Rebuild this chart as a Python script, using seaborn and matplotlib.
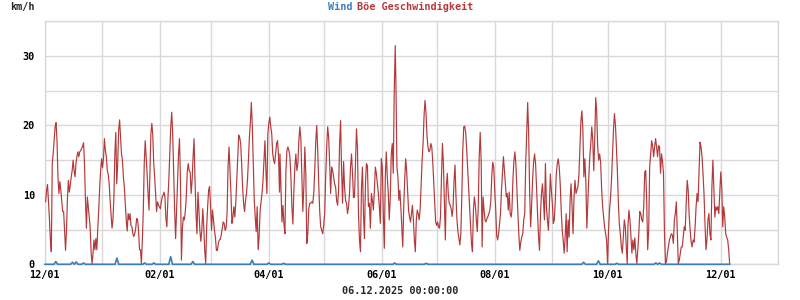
import numpy as np
import pandas as pd
import matplotlib
matplotlib.use("Agg")
import matplotlib.pyplot as plt
import matplotlib.dates as mdates
from matplotlib.ticker import MultipleLocator
import seaborn as sns

# ---------------- data (km/h) ----------------
start_date = pd.Timestamp("2024-12-01")
x_end_date = pd.Timestamp("2026-01-01")

# gust series, in six consecutive time blocks (day offsets from start_date)
block_days = [(0.5, 64.0), (64.4, 126.8), (127.05, 189.3),
              (189.7, 251.9), (252.3, 314.6), (314.96, 369.9)]

gust_dec_jan = [9.0, 10.7, 11.5, 9.0, 6.6, 3.5, 1.8, 14.5, 16.0, 18.0, 19.8, 20.4, 17.8, 12.6, 10.2, 11.9,
                10.7, 9.2, 7.6, 7.6, 4.9, 2.0, 4.9, 9.5, 12.1, 10.4, 11.4, 12.6, 13.5, 15.0, 13.5, 12.6,
                14.5, 15.5, 16.2, 15.5, 16.2, 16.4, 16.7, 17.0, 17.5, 14.5, 9.2, 5.2, 9.7, 8.3, 6.8, 5.2,
                1.6, 0.1, 1.6, 3.5, 2.1, 3.7, 2.1, 5.2, 7.8, 11.1, 13.5, 15.2, 13.9, 15.2, 18.1, 16.4,
                15.5, 13.5, 13.0, 11.6, 9.2, 7.3, 5.2, 6.4, 9.7, 15.9, 19.0, 11.6, 14.5, 19.3, 20.8, 18.3,
                15.9, 15.0, 12.6, 11.1, 8.8, 6.4, 4.8, 7.3, 6.4, 7.3, 5.6, 5.4, 4.4, 4.0, 4.4, 5.2,
                6.6, 6.4, 4.9, 2.1, 2.1, 0.1, 3.5, 7.8, 14.5, 17.8, 15.5, 13.1, 10.2, 7.8, 13.5, 18.8,
                20.3, 18.6, 14.5, 12.6, 10.2, 7.6, 9.0, 8.5, 8.3, 8.0, 9.0, 9.7, 10.0]

gust_feb_mar = [10.4, 9.7, 6.6, 5.4, 9.2, 12.1, 15.9, 19.8, 21.9, 18.8, 13.1, 7.8, 3.7, 7.8, 11.6, 15.9,
                18.1, 12.1, 0.6, 5.2, 6.8, 6.4, 7.6, 9.7, 13.3, 14.5, 13.5, 13.3, 10.2, 12.1, 15.5, 18.1,
                12.1, 7.3, 4.4, 10.4, 7.8, 4.9, 3.3, 4.9, 8.0, 5.4, 2.0, 0.1, 5.4, 8.3, 10.7, 11.2,
                8.3, 4.9, 7.8, 6.4, 4.9, 3.9, 2.0, 2.0, 3.0, 3.5, 3.6, 4.2, 5.2, 6.1, 5.9, 4.9,
                5.2, 7.3, 14.0, 16.9, 13.5, 10.2, 5.9, 6.8, 8.3, 6.8, 9.0, 12.1, 15.5, 18.6, 18.3, 17.4,
                14.5, 11.1, 8.8, 7.6, 9.2, 10.2, 12.1, 15.0, 18.3, 20.5, 23.3, 19.8, 14.5, 9.2, 6.8, 4.7,
                8.3, 2.1, 3.9, 7.6, 9.0, 10.2, 12.1, 15.0, 17.8, 13.5, 10.2, 18.8, 20.3, 21.2, 19.8, 18.8,
                15.9, 15.0, 14.5, 15.9, 17.4, 17.8, 15.5, 10.4]

gust_apr_may = [15.9, 11.1, 6.1, 8.5, 5.8, 4.4, 13.5, 16.4, 16.9, 16.4, 15.5, 12.6, 8.3, 5.8, 10.7, 14.0,
                15.9, 13.5, 14.5, 17.8, 19.8, 18.1, 13.1, 7.6, 11.1, 16.9, 13.1, 3.0, 4.4, 8.0, 8.8, 8.8,
                9.0, 8.8, 10.2, 13.5, 17.6, 20.0, 16.4, 11.6, 7.6, 5.4, 4.9, 4.4, 5.6, 7.3, 12.6, 16.9,
                19.8, 18.3, 14.5, 10.2, 14.0, 13.5, 12.6, 11.6, 11.1, 9.2, 8.5, 10.7, 17.4, 20.7, 13.5, 8.8,
                14.8, 11.1, 9.2, 8.8, 7.3, 8.3, 10.2, 14.0, 15.9, 13.1, 9.6, 9.7, 14.5, 19.5, 16.7, 7.3,
                3.5, 1.8, 10.9, 14.0, 7.3, 3.7, 11.6, 14.5, 14.2, 8.3, 8.8, 5.2, 10.2, 9.2, 7.8, 10.7,
                14.0, 13.1, 11.6, 10.2, 8.3, 5.9, 15.2, 14.0, 7.3, 2.3, 12.6, 16.2, 12.6, 10.2, 6.4, 9.7,
                15.9, 17.4, 13.1, 25.0, 31.5]

gust_jun_jul = [25.5, 14.0, 12.6, 9.2, 10.7, 8.3, 5.4, 2.5, 8.3, 12.1, 15.2, 13.5, 10.7, 7.8, 6.8, 6.1,
                7.3, 8.5, 6.4, 3.5, 1.8, 6.4, 7.8, 7.3, 6.4, 8.0, 11.6, 15.0, 17.4, 21.4, 23.6, 21.9,
                18.6, 16.9, 16.2, 16.4, 17.4, 16.9, 14.7, 11.9, 9.0, 6.1, 5.6, 6.1, 5.4, 5.2, 6.9, 12.6,
                17.4, 14.5, 9.2, 3.5, 11.2, 13.1, 10.2, 8.8, 8.5, 8.0, 6.9, 8.3, 12.1, 14.3, 9.7, 6.4,
                4.7, 3.7, 2.8, 4.4, 9.7, 16.4, 19.8, 19.9, 19.0, 16.7, 14.0, 11.1, 8.8, 6.1, 3.0, 1.8,
                7.8, 9.7, 8.5, 6.4, 4.7, 8.3, 15.5, 19.0, 15.0, 2.5, 9.7, 7.8, 6.4, 6.1, 6.6, 6.9,
                7.3, 7.8, 9.2, 12.8, 14.7, 14.0, 10.7, 8.0, 4.2, 3.5, 4.4, 5.8, 7.3, 10.7, 13.1, 15.5,
                13.5, 11.6, 9.7, 10.2, 7.8, 10.4, 7.3, 6.8]

gust_aug_sep = [7.8, 12.1, 14.8, 16.2, 14.5, 10.9, 7.6, 4.4, 2.0, 3.2, 3.9, 4.4, 6.4, 7.3, 14.5, 19.0,
                23.3, 18.8, 10.4, 5.4, 8.5, 12.3, 14.7, 15.9, 14.5, 11.1, 7.3, 4.0, 2.0, 7.3, 10.2, 11.6,
                9.2, 6.4, 14.5, 8.3, 6.4, 4.9, 8.3, 13.0, 10.7, 8.8, 5.9, 6.4, 9.2, 13.0, 14.5, 15.2,
                14.0, 11.6, 7.8, 4.9, 3.5, 1.6, 3.9, 7.3, 1.8, 6.4, 3.9, 9.2, 11.6, 8.3, 4.4, 9.7,
                12.1, 10.2, 10.7, 11.2, 13.0, 16.7, 20.7, 22.1, 19.3, 12.6, 15.2, 11.8, 5.2, 8.8, 12.6, 15.5,
                17.4, 19.8, 17.9, 13.5, 17.9, 24.0, 21.9, 16.9, 15.0, 15.9, 14.7, 10.9, 8.3, 6.8, 5.4, 4.4,
                3.5, 0.1, 4.9, 7.8, 9.5, 12.1, 15.9, 19.3, 21.7, 20.0, 16.9, 13.3, 8.8, 5.7, 4.3, 2.5,
                1.6, 3.9, 6.4, 5.4, 2.5, 0.1]

gust_oct_dec = [5.4, 7.8, 6.4, 4.2, 1.6, 3.5, 2.1, 3.8, 1.6, 0.1, 2.1, 4.4, 7.6, 7.3, 6.4, 6.1,
                8.3, 13.3, 13.5, 9.0, 2.1, 4.9, 14.0, 15.9, 17.8, 17.1, 15.5, 16.9, 18.1, 16.9, 15.5, 17.1,
                16.9, 13.1, 15.9, 14.8, 13.1, 4.4, 0.1, 0.4, 1.6, 2.5, 3.5, 4.0, 4.4, 4.2, 3.0, 6.4,
                7.3, 9.0, 4.4, 0.1, 0.6, 1.6, 2.5, 2.5, 3.9, 5.4, 4.9, 8.8, 12.1, 10.7, 7.1, 4.9,
                3.2, 2.5, 3.5, 3.2, 5.4, 8.3, 10.2, 9.0, 13.1, 17.6, 16.9, 15.5, 13.1, 10.2, 5.9, 2.1,
                3.5, 6.4, 7.3, 4.4, 3.5, 11.1, 15.0, 11.1, 6.8, 8.3, 7.8, 8.3, 7.3, 10.2, 13.3, 11.1,
                5.4, 8.3, 6.8, 4.4, 3.9, 3.5, 2.1, 0.1]

# mean wind: zero except for small bumps (day offset, km/h)
wind_days = [0, 5.6, 14.7, 17.4, 20.7, 39, 53.6, 59, 68.2, 80, 112, 120.6, 129, 188.6, 206,
             291, 299, 309, 329.5, 332, 370]
wind_vals = [0.0, 0.4, 0.3, 0.35, 0.2, 0.9, 0.2, 0.2, 1.1, 0.4, 0.6, 0.2, 0.15, 0.2, 0.15,
             0.3, 0.5, 0.15, 0.2, 0.2, 0.0]

x_tick_months = [12, 2, 4, 6, 8, 10]
y_limits = (0, 35)

# ---------------- build tables ----------------
gust_blocks = [gust_dec_jan, gust_feb_mar, gust_apr_may, gust_jun_jul, gust_aug_sep, gust_oct_dec]
g_t, g_v = [], []
for (a, b), block in zip(block_days, gust_blocks):
    d = np.linspace(a, b, len(block))
    g_t.extend(start_date + pd.to_timedelta(d, unit="D"))
    g_v.extend(block)
gust_df = pd.DataFrame({"time": g_t, "kmh": g_v})

daily = np.zeros(371)
for d, v in zip(wind_days, wind_vals):
    daily[int(round(d))] = v
wind_df = pd.DataFrame({"time": start_date + pd.to_timedelta(np.arange(371), unit="D"),
                        "kmh": daily})

# ---------------- plot ----------------
sns.set_theme(style="white")
plt.rcParams["font.family"] = ["DejaVu Sans Mono", "DejaVu Sans"]
plt.rcParams["font.weight"] = "bold"

RED = "#b3393b"
BLUE = "#3b7dbd"
GRID = "#d9d9d9"
fs = 7.3

fig = plt.figure(figsize=(8, 3), dpi=100)
ax = fig.add_axes([44.7 / 800, 1 - 264.3 / 300, (778 - 44.7) / 800, (264.3 - 21.3) / 300])

sns.lineplot(data=gust_df, x="time", y="kmh", ax=ax, color=RED, lw=0.85, estimator=None, zorder=3)
sns.lineplot(data=wind_df, x="time", y="kmh", ax=ax, color=BLUE, lw=1.2, estimator=None,
             zorder=4, clip_on=False)

ax.set_xlim(start_date, x_end_date)
ax.set_ylim(*y_limits)
ax.xaxis.set_major_locator(mdates.MonthLocator(bymonth=x_tick_months))
ax.xaxis.set_minor_locator(mdates.MonthLocator())
ax.xaxis.set_major_formatter(mdates.DateFormatter("%m/%d"))
ax.yaxis.set_major_locator(MultipleLocator(10))
ax.yaxis.set_minor_locator(MultipleLocator(5))
ax.grid(True, which="both", color=GRID, lw=1.0)
ax.set_axisbelow(True)
ax.tick_params(which="both", length=0, labelsize=fs, colors="black")
ax.tick_params(axis="x", pad=4)
ax.tick_params(axis="y", pad=7)
for lab in ax.get_xticklabels() + ax.get_yticklabels():
    lab.set_fontweight("bold")
ax.set_xlabel("")
ax.set_ylabel("")
for s in ax.spines.values():
    s.set_color(GRID)
    s.set_linewidth(1.0)
    s.set_zorder(1)

fig.text(10 / 800, 1 - 7 / 300, "km/h", fontsize=fs, fontweight="bold", va="center", ha="left")
fig.text(328 / 800, 1 - 7 / 300, "Wind", fontsize=fs, fontweight="bold", va="center", ha="left", color=BLUE)
fig.text(357 / 800, 1 - 7 / 300, "Böe Geschwindigkeit", fontsize=fs, fontweight="bold",
         va="center", ha="left", color=RED)
fig.text(400 / 800, 1 - 291 / 300, "06.12.2025 00:00:00", fontsize=fs, fontweight="bold",
         va="center", ha="center")

fig.savefig("out.png", dpi=100)
